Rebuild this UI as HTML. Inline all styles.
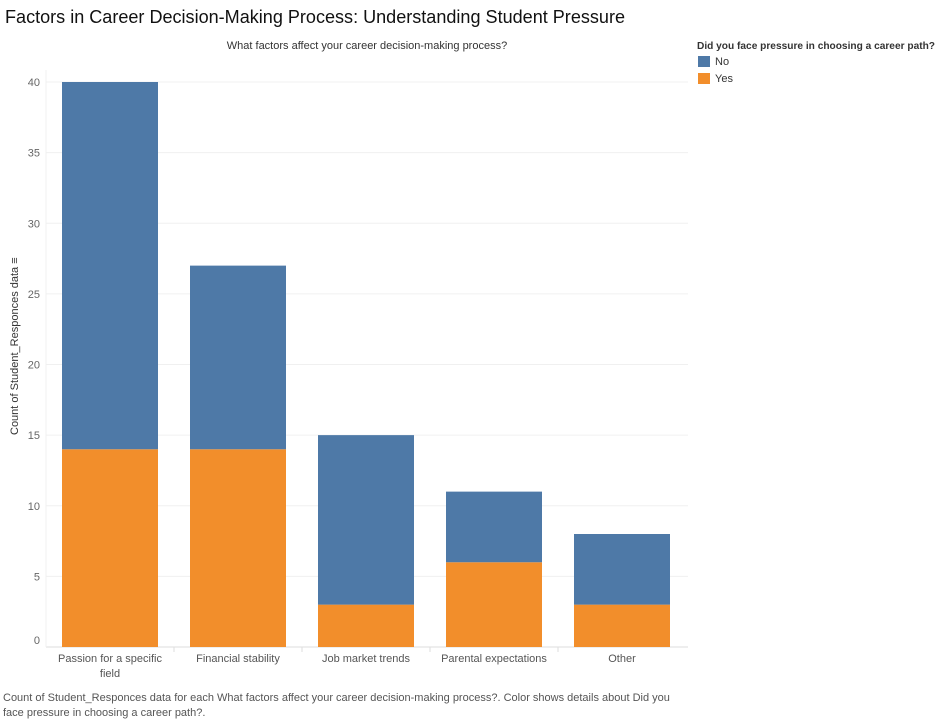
<!DOCTYPE html>
<html><head><meta charset="utf-8"><style>
body{margin:0;width:938px;height:720px;background:#fff;font-family:"Liberation Sans",sans-serif;overflow:hidden}
</style></head><body>
<svg width="938" height="720" xmlns="http://www.w3.org/2000/svg" font-family="Liberation Sans, sans-serif">
<text x="5" y="23" font-size="18" fill="#111" textLength="620" lengthAdjust="spacingAndGlyphs">Factors in Career Decision-Making Process: Understanding Student Pressure</text>
<text x="367" y="49" font-size="11" fill="#333" text-anchor="middle">What factors affect your career decision-making process?</text>
<text transform="translate(18,435) rotate(-90)" font-size="11" fill="#333">Count of Student_Responces data ≡</text>
<g>
<text x="697" y="49" font-size="10.5" font-weight="bold" fill="#333" textLength="238" lengthAdjust="spacingAndGlyphs">Did you face pressure in choosing a career path?</text>
<rect x="698" y="56" width="12" height="11" fill="#4e79a7"/>
<text x="715" y="65" font-size="11" fill="#333">No</text>
<rect x="698" y="73" width="12" height="11" fill="#f28e2b"/>
<text x="715" y="82" font-size="11" fill="#333">Yes</text>
</g>
<g id="plot"></g>
<text font-size="11" fill="#555"><tspan x="3" y="701">Count of Student_Responces data for each What factors affect your career decision-making process?.  Color shows details about Did you</tspan><tspan x="3" y="716">face pressure in choosing a career path?.</tspan></text>
</svg>
<script>
const categories=["Passion for a specific field","Financial stability","Job market trends","Parental expectations","Other"];
const yesValues=[14,14,3,6,3];
const noValues=[26,13,12,5,5];
const yTicks=[0,5,10,15,20,25,30,35,40];
const NS="http://www.w3.org/2000/svg";
const g=document.getElementById('plot');
const x0=46,band=128,y0=647,yTop=82,yMax=40;
const yS=v=>y0-(v/yMax)*(y0-yTop);
function mk(t,a,txt){const e=document.createElementNS(NS,t);for(const k in a)e.setAttribute(k,a[k]);if(txt!=null)e.textContent=txt;g.appendChild(e);return e;}
yTicks.forEach(t=>{
 const l=mk('line',{x1:x0,x2:688,y1:yS(t),y2:yS(t),stroke:t===0?'#ddd':'#f0f0f0','stroke-width':1});
 
 
 const tx=mk('text',{x:40,y:yS(t)+(t===0?-3:4),'font-size':11,fill:'#666','text-anchor':'end'},String(t));
 
 
});
mk('line',{x1:x0,x2:x0,y1:70,y2:y0,stroke:'#f0f0f0'});
categories.forEach((c,i)=>{
 const bx=x0+i*band+16,bw=96;
 const r1=mk('rect',{x:bx,y:yS(yesValues[i]),width:bw,height:y0-yS(yesValues[i]),fill:'#f28e2b'});
 
 
 const tot=yesValues[i]+noValues[i];
 const r2=mk('rect',{x:bx,y:yS(tot),width:bw,height:yS(yesValues[i])-yS(tot),fill:'#4e79a7'});
 
 
 const cx=x0+i*band+band/2;
 const t=mk('text',{x:cx,y:662,'font-size':11,fill:'#555','text-anchor':'middle'});
 
 
 const lines=c==="Passion for a specific field"?["Passion for a specific","field"]:[c];
 lines.forEach((s,j)=>{const ts=document.createElementNS(NS,'tspan');ts.setAttribute('x',cx);ts.setAttribute('y',662+j*15);ts.textContent=s;t.appendChild(ts);});
 if(i>0) mk('line',{x1:x0+i*band,x2:x0+i*band,y1:y0,y2:y0+5,stroke:'#ddd'});
});
</script>
</body></html>
